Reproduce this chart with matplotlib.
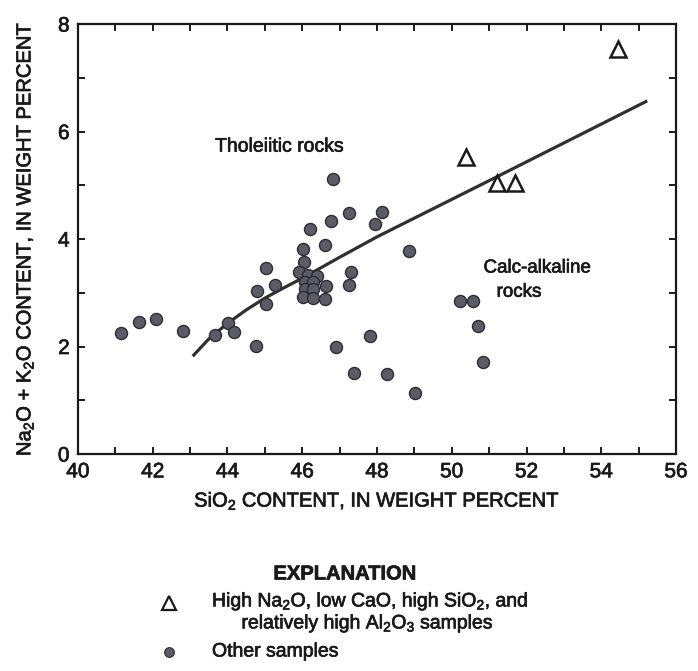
import matplotlib
matplotlib.use("Agg")
import matplotlib.pyplot as plt
import matplotlib.patheffects as pe
from matplotlib.ticker import MultipleLocator
from matplotlib.lines import Line2D
from matplotlib.text import Text

plt.rcParams['font.family'] = ['Liberation Sans', 'DejaVu Sans']
plt.rcParams['mathtext.fontset'] = 'custom'
plt.rcParams['mathtext.rm'] = 'Liberation Sans'
plt.rcParams['mathtext.it'] = 'Liberation Sans'
plt.rcParams['mathtext.bf'] = 'Liberation Sans:bold'

# High Na2O / low CaO / high SiO2 samples
tri_sio2 = [54.45, 50.38, 51.21, 51.69]
tri_alk = [7.53, 5.53, 5.04, 5.04]

# Other samples
dot_sio2 = [41.14, 41.64, 42.09, 42.82, 43.67, 44.02, 44.18, 44.77, 44.80, 45.04,
            45.28, 45.04, 46.21, 46.76, 46.01, 46.60, 46.05, 45.91, 46.64, 47.26,
            47.30, 46.83, 47.25, 48.13, 47.95, 48.86, 46.91, 47.81, 47.38, 48.28,
            49.02, 50.22, 50.58, 50.69, 50.84, 46.15, 46.39, 46.07, 46.29, 46.07,
            46.29, 46.02, 46.29, 46.61]
dot_alk = [2.25, 2.46, 2.51, 2.28, 2.21, 2.44, 2.27, 2.01, 3.04, 3.46,
           3.15, 2.79, 4.18, 4.34, 3.81, 3.88, 3.57, 3.39, 3.12, 3.14,
           3.38, 5.11, 4.49, 4.51, 4.28, 3.78, 1.99, 2.20, 1.51, 1.48,
           1.14, 2.85, 2.85, 2.38, 1.72, 3.33, 3.31, 3.20, 3.20, 3.07,
           3.07, 2.92, 2.90, 2.88]

# Dividing curve between tholeiitic and calc-alkaline fields
curve_sio2 = [43.07, 43.5, 44.0, 44.5, 45.0, 45.5, 46.0, 47.0, 48.0, 51.3, 55.23]
curve_alk = [1.82, 2.14, 2.43, 2.68, 2.90, 3.09, 3.27, 3.66, 4.04, 5.19, 6.57]

ink = '#1a1a1a'
dot_face = '#5b5a67'
dot_edge = '#2c2c32'

fig = plt.figure(figsize=(6.98, 6.71), dpi=100)
ax = fig.add_axes([0.1117, 0.3234, 0.8568, 0.6408])

ax.plot(curve_sio2, curve_alk, color='#303030', lw=2.3, solid_capstyle='butt', zorder=2)
ax.scatter(dot_sio2, dot_alk, s=75, facecolor=dot_face, edgecolor=dot_edge,
           linewidths=1.0, zorder=3)
ax.plot(tri_sio2, tri_alk, linestyle='none', marker='^', markersize=11,
        markerfacecolor='none', markeredgecolor=ink, markeredgewidth=1.8, zorder=4)

ax.set_xlim(40, 56)
ax.set_ylim(0, 8)
ax.xaxis.set_major_locator(MultipleLocator(2))
ax.xaxis.set_minor_locator(MultipleLocator(1))
ax.yaxis.set_major_locator(MultipleLocator(2))
ax.yaxis.set_minor_locator(MultipleLocator(1))
ax.tick_params(which='both', direction='in', top=True, right=True, length=5,
               width=1.4, color=ink, labelsize=15, labelcolor=ink)
ax.tick_params(axis='x', pad=6)
ax.tick_params(axis='y', pad=6)
for s in ax.spines.values():
    s.set_linewidth(1.6)
    s.set_color(ink)

ax.set_xlabel('SiO$_2$ CONTENT, IN WEIGHT PERCENT', fontsize=14.5, color=ink, labelpad=6)
ax.set_ylabel('Na$_2$O + K$_2$O CONTENT, IN WEIGHT PERCENT', fontsize=14.5,
              color=ink, labelpad=16)

ax.text(45.4, 5.71, 'Tholeiitic rocks', fontsize=14, color=ink, ha='center', va='center')
ax.text(50.85, 3.46, 'Calc-alkaline', fontsize=13.5, color=ink, ha='left', va='center')
ax.text(51.2, 3.01, 'rocks', fontsize=13.5, color=ink, ha='left', va='center')

# Explanation block
fig.text(345 / 698, 1 - 574 / 671, 'EXPLANATION', fontsize=14.5, fontweight='bold',
         color=ink, ha='center', va='center')
fig.add_artist(Line2D([169 / 698], [1 - 603 / 671], marker='^', markersize=10,
                      markerfacecolor='none', markeredgecolor=ink, markeredgewidth=1.6,
                      transform=fig.transFigure))
fig.text(212 / 698, 1 - 602 / 671, 'High Na$_2$O, low CaO, high SiO$_2$, and',
         fontsize=14, color=ink, ha='left', va='center')
fig.text(368 / 698, 1 - 624 / 671, 'relatively high Al$_2$O$_3$ samples',
         fontsize=14, color=ink, ha='center', va='center')
fig.add_artist(Line2D([169 / 698], [1 - 652 / 671], marker='o', markersize=7,
                      markerfacecolor=dot_face, markeredgecolor=dot_edge, markeredgewidth=0.8,
                      transform=fig.transFigure))
fig.text(212 / 698, 1 - 652 / 671, 'Other samples', fontsize=14, color=ink,
         ha='left', va='center')

# Slightly heavier lettering, like the printed original
for t in fig.findobj(Text):
    t.set_path_effects([pe.withStroke(linewidth=0.5, foreground=ink)])

fig.savefig('out.png', dpi=100)
